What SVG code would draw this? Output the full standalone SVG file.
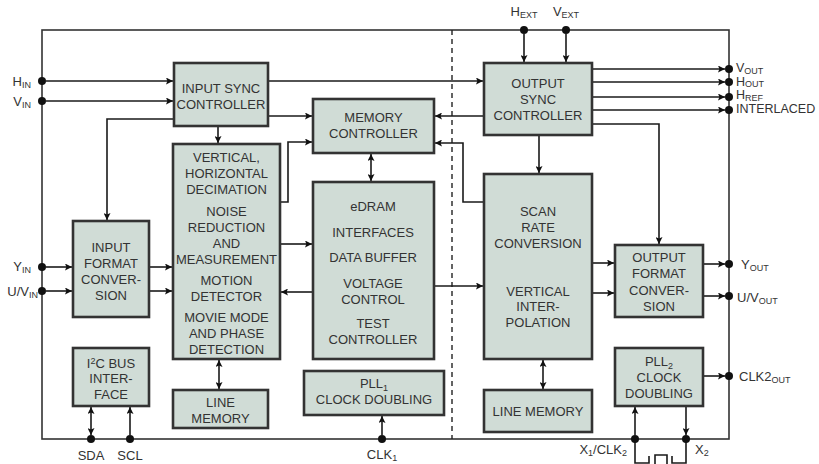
<svg xmlns="http://www.w3.org/2000/svg" width="819" height="464" viewBox="0 0 819 464">
<style>
.box{fill:#d0dcd6;stroke:#333;stroke-width:2.6}
.t{font-family:"Liberation Sans",Arial,sans-serif;font-size:13px;fill:#333;text-anchor:middle}
.l{font-family:"Liberation Sans",Arial,sans-serif;font-size:13px;fill:#333}
.o{font-family:"Liberation Sans",Arial,sans-serif;font-size:12.5px;fill:#333}
.s{font-size:9px}
.c{fill:none;stroke:#1a1a1a;stroke-width:1.6}
.ca{fill:none;stroke:#1a1a1a;stroke-width:1.6;marker-end:url(#ah)}
.cd{fill:none;stroke:#1a1a1a;stroke-width:1.6;marker-end:url(#ah);marker-start:url(#ah)}
.dot{fill:#111}
</style>
<defs>
<marker id="ah" viewBox="0 0 10 10" refX="10" refY="5" markerWidth="10" markerHeight="7" markerUnits="userSpaceOnUse" orient="auto-start-reverse">
<path d="M0,0 L10,5 L0,10 L2,5 z" fill="#111"/>
</marker>
</defs>
<rect width="819" height="464" fill="#fff"/>
<rect x="42" y="30" width="687" height="409" fill="none" stroke="#333" stroke-width="1.6"/>
<path d="M452,30 V439" stroke="#222" stroke-width="1.4" stroke-dasharray="5,4" fill="none"/>

<g id="connectors">
<path class="ca" d="M46,81 H173"/>
<path class="ca" d="M46,101 H173"/>
<path class="ca" d="M268,81 H483"/>
<path class="ca" d="M268,116 H312"/>
<path class="ca" d="M174,119 H107 V220"/>
<path class="ca" d="M218,126 V143"/>
<path class="ca" d="M280,202 H288 V142 H312"/>
<path class="cd" d="M371,154 V181"/>
<path class="ca" d="M46,267 H72"/>
<path class="ca" d="M46,291 H72"/>
<path class="ca" d="M149,267 H172"/>
<path class="ca" d="M149,291 H172"/>
<path class="ca" d="M280,244 H312"/>
<path class="ca" d="M313,292 H281"/>
<path class="cd" d="M219,360 V389"/>
<path class="cd" d="M91,407 V435"/>
<path class="ca" d="M130,435 V407"/>
<path class="ca" d="M382,435 V416"/>
<path class="ca" d="M434,286 H483"/>
<path class="ca" d="M484,116 H435"/>
<path class="ca" d="M484,202 H463 V143 H435"/>
<path class="ca" d="M539,135 V173"/>
<path class="ca" d="M592,69 H725"/>
<path class="ca" d="M592,82 H725"/>
<path class="ca" d="M592,97 H725"/>
<path class="ca" d="M592,110 H725"/>
<path class="ca" d="M592,124 H659 V244"/>
<path class="ca" d="M524,34 V62"/>
<path class="ca" d="M566,34 V62"/>
<path class="ca" d="M592,263 H614"/>
<path class="ca" d="M592,293 H614"/>
<path class="ca" d="M703,264 H725"/>
<path class="ca" d="M703,296 H725"/>
<path class="cd" d="M543,360 V389"/>
<path class="ca" d="M703,376 H725"/>
<path class="ca" d="M635,435 V407"/>
<path class="ca" d="M686,407 V435"/>
<path class="c" d="M635,439 V463 H649 V456"/>
<path class="c" d="M686,439 V463 H672 V456"/>
<path class="c" d="M655,464 V455 H667 V464"/>
<g class="dot">
<circle cx="42" cy="81" r="4"/><circle cx="42" cy="101" r="4"/>
<circle cx="42" cy="267" r="4"/><circle cx="42" cy="291" r="4"/>
<circle cx="524" cy="30" r="4"/><circle cx="566" cy="30" r="4"/>
<circle cx="729" cy="69" r="4"/><circle cx="729" cy="82" r="4"/>
<circle cx="729" cy="97" r="4"/><circle cx="729" cy="110" r="4"/>
<circle cx="729" cy="264" r="4"/><circle cx="729" cy="296" r="4"/>
<circle cx="729" cy="376" r="4"/>
<circle cx="91" cy="439" r="4"/><circle cx="130" cy="439" r="4"/>
<circle cx="382" cy="439" r="4"/>
<circle cx="635" cy="439" r="4"/><circle cx="686" cy="439" r="4"/>
</g>
</g>

<g id="input-sync">
<rect class="box" x="174" y="63" width="94" height="63"/>
<text class="t" x="221" y="93">INPUT SYNC</text>
<text class="t" x="221" y="109">CONTROLLER</text>
</g>
<g id="memory-controller">
<rect class="box" x="313" y="99" width="121" height="54"/>
<text class="t" x="373.5" y="122">MEMORY</text>
<text class="t" x="373.5" y="138">CONTROLLER</text>
</g>
<g id="decimation">
<rect class="box" x="173" y="144" width="107" height="215"/>
<text class="t" x="226.5" y="162">VERTICAL,</text>
<text class="t" x="226.5" y="178">HORIZONTAL</text>
<text class="t" x="226.5" y="194">DECIMATION</text>
<text class="t" x="226.5" y="216">NOISE</text>
<text class="t" x="226.5" y="232">REDUCTION</text>
<text class="t" x="226.5" y="248">AND</text>
<text class="t" x="226.5" y="264">MEASUREMENT</text>
<text class="t" x="226.5" y="285">MOTION</text>
<text class="t" x="226.5" y="301">DETECTOR</text>
<text class="t" x="226.5" y="322">MOVIE MODE</text>
<text class="t" x="226.5" y="338">AND PHASE</text>
<text class="t" x="226.5" y="354">DETECTION</text>
</g>
<g id="edram">
<rect class="box" x="313" y="182" width="121" height="177"/>
<text class="t" x="373" y="211">eDRAM</text>
<text class="t" x="373" y="237">INTERFACES</text>
<text class="t" x="373" y="262">DATA BUFFER</text>
<text class="t" x="373" y="288">VOLTAGE</text>
<text class="t" x="373" y="304">CONTROL</text>
<text class="t" x="373" y="328">TEST</text>
<text class="t" x="373" y="344">CONTROLLER</text>
</g>
<g id="input-format">
<rect class="box" x="73" y="221" width="76" height="96"/>
<text class="t" x="111" y="252">INPUT</text>
<text class="t" x="111" y="268">FORMAT</text>
<text class="t" x="111" y="284">CONVER-</text>
<text class="t" x="111" y="300">SION</text>
</g>
<g id="i2c">
<rect class="box" x="73" y="348" width="76" height="58"/>
<text class="t" x="111" y="368">I<tspan class="s" dy="-4">2</tspan><tspan dy="4">C BUS</tspan></text>
<text class="t" x="111" y="383">INTER-</text>
<text class="t" x="111" y="399">FACE</text>
</g>
<g id="line-memory-left">
<rect class="box" x="173" y="390" width="95" height="38"/>
<text class="t" x="220.5" y="407">LINE</text>
<text class="t" x="220.5" y="423">MEMORY</text>
</g>
<g id="pll1">
<rect class="box" x="304" y="371" width="140" height="44"/>
<text class="t" x="374" y="388">PLL<tspan class="s" dy="3">1</tspan></text>
<text class="t" x="374" y="404">CLOCK DOUBLING</text>
</g>
<g id="output-sync">
<rect class="box" x="484" y="63" width="108" height="72"/>
<text class="t" x="538" y="88">OUTPUT</text>
<text class="t" x="538" y="104">SYNC</text>
<text class="t" x="538" y="120">CONTROLLER</text>
</g>
<g id="scan-rate">
<rect class="box" x="484" y="174" width="108" height="185"/>
<text class="t" x="538" y="216">SCAN</text>
<text class="t" x="538" y="232">RATE</text>
<text class="t" x="538" y="248">CONVERSION</text>
<text class="t" x="538" y="296">VERTICAL</text>
<text class="t" x="538" y="311">INTER-</text>
<text class="t" x="538" y="327">POLATION</text>
</g>
<g id="output-format">
<rect class="box" x="615" y="245" width="88" height="72"/>
<text class="t" x="659" y="262">OUTPUT</text>
<text class="t" x="659" y="278">FORMAT</text>
<text class="t" x="659" y="295">CONVER-</text>
<text class="t" x="659" y="311">SION</text>
</g>
<g id="pll2">
<rect class="box" x="615" y="348" width="88" height="58"/>
<text class="t" x="659" y="366">PLL<tspan class="s" dy="3">2</tspan></text>
<text class="t" x="659" y="382">CLOCK</text>
<text class="t" x="659" y="398">DOUBLING</text>
</g>
<g id="line-memory-right">
<rect class="box" x="484" y="390" width="108" height="42"/>
<text class="t" x="538" y="416">LINE MEMORY</text>
</g>

<g id="labels">
<text class="l" x="31" y="86" text-anchor="end">H<tspan class="s" dy="2">IN</tspan></text>
<text class="l" x="31" y="106" text-anchor="end">V<tspan class="s" dy="2">IN</tspan></text>
<text class="l" x="31" y="271" text-anchor="end">Y<tspan class="s" dy="2">IN</tspan></text>
<text class="l" x="38" y="296" text-anchor="end">U/V<tspan class="s" dy="2">IN</tspan></text>
<text class="l" x="524" y="16" text-anchor="middle">H<tspan class="s" dy="2">EXT</tspan></text>
<text class="l" x="566" y="16" text-anchor="middle">V<tspan class="s" dy="2">EXT</tspan></text>
<text class="o" x="736" y="72">V<tspan class="s" dy="1.5">OUT</tspan></text>
<text class="o" x="736" y="85.5">H<tspan class="s" dy="1.5">OUT</tspan></text>
<text class="o" x="736" y="99">H<tspan class="s" dy="1.5">REF</tspan></text>
<text class="o" x="736" y="113">INTERLACED</text>
<text class="l" x="741" y="269">Y<tspan class="s" dy="2">OUT</tspan></text>
<text class="l" x="737" y="302">U/V<tspan class="s" dy="2">OUT</tspan></text>
<text class="l" x="739" y="381">CLK2<tspan class="s" dy="2">OUT</tspan></text>
<text class="l" x="91" y="460" text-anchor="middle">SDA</text>
<text class="l" x="130" y="460" text-anchor="middle">SCL</text>
<text class="l" x="382" y="459" text-anchor="middle">CLK<tspan class="s" dy="1.5">1</tspan></text>
<text class="l" x="627" y="454" text-anchor="end">X<tspan class="s" dy="2">1</tspan><tspan dy="-2">/CLK</tspan><tspan class="s" dy="2">2</tspan></text>
<text class="l" x="695" y="454">X<tspan class="s" dy="2">2</tspan></text>
</g>
</svg>
